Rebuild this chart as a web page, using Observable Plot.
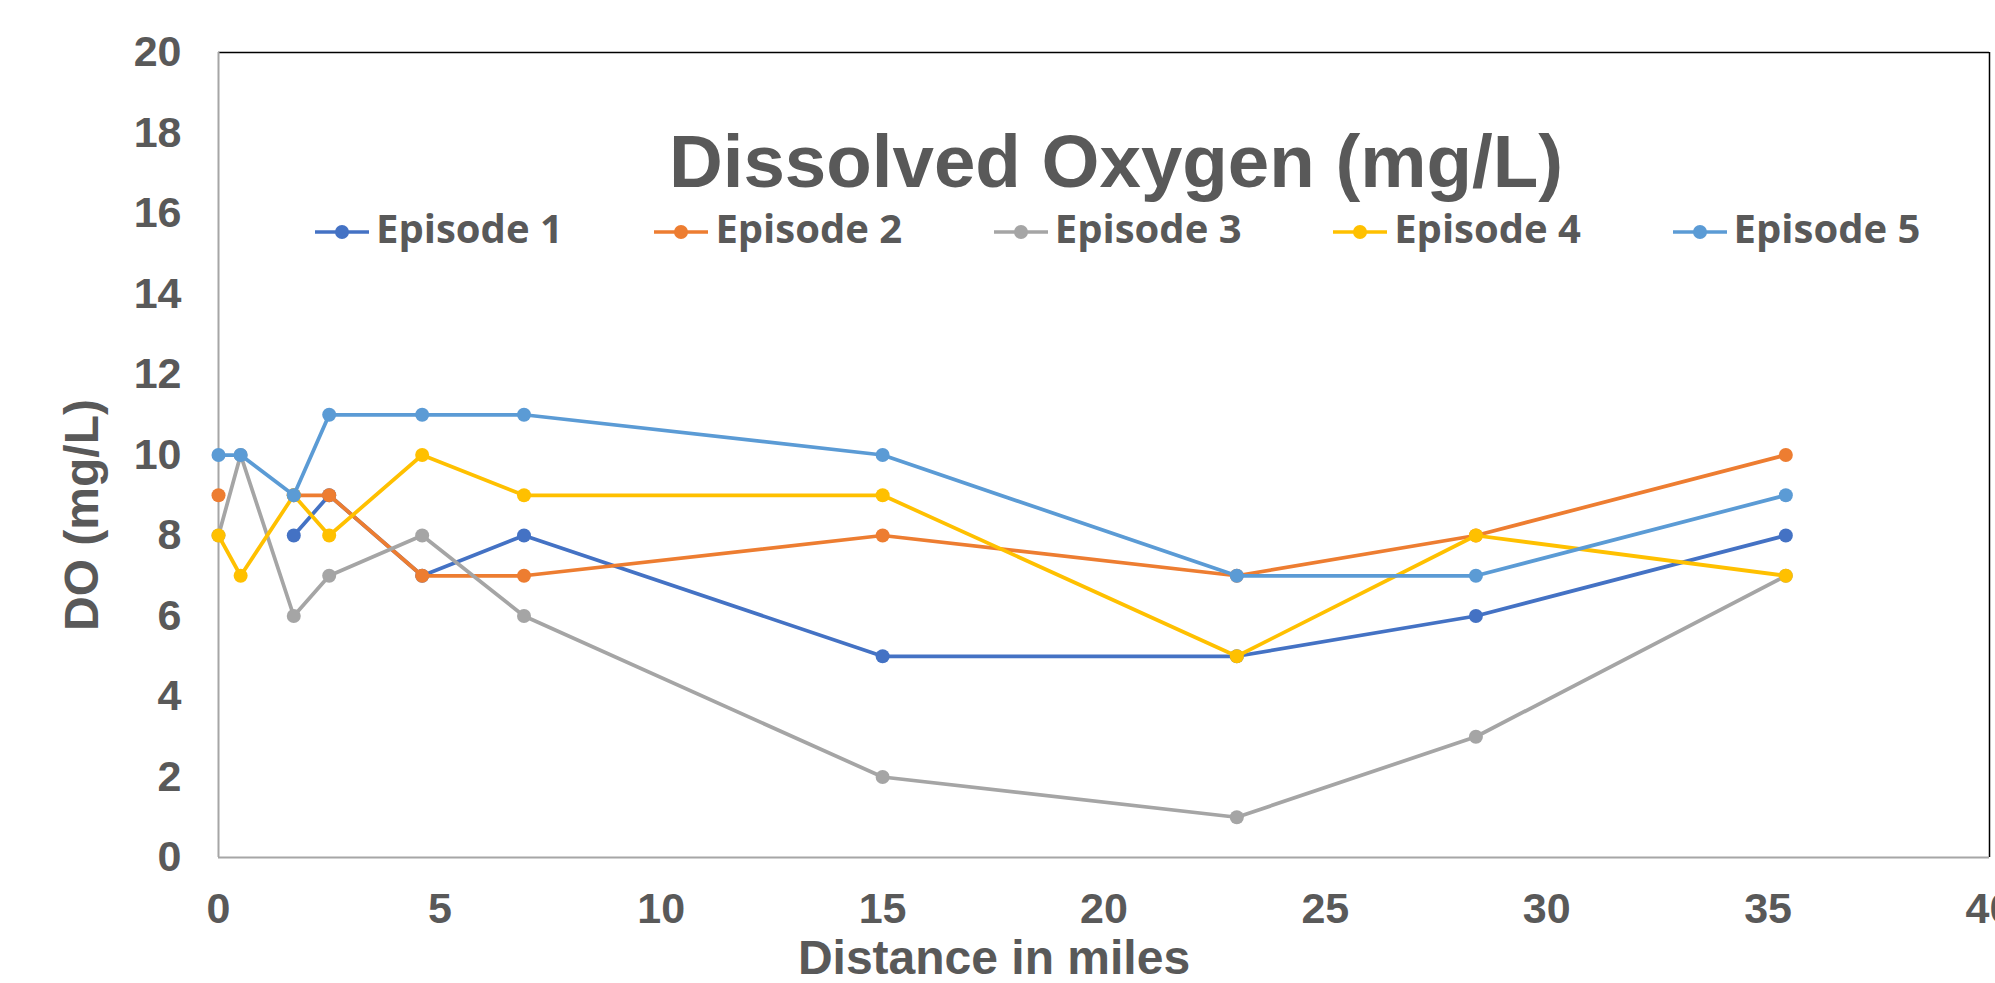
<!DOCTYPE html>
<html>
<head>
<meta charset="utf-8">
<script src="https://cdn.jsdelivr.net/npm/d3@7"></script>
<script src="https://cdn.jsdelivr.net/npm/@observablehq/plot@0.6"></script>
<style>
  html, body { margin: 0; padding: 0; background: #fff; overflow: hidden; }
  #wrap { position: relative; width: 1995px; height: 983px; overflow: hidden; }
  .title { position: absolute; left: 1116px; top: 125px; transform: translateX(-50%); white-space: nowrap;
           font-family: "Liberation Sans", Arial, sans-serif; font-weight: bold; font-size: 74.5px; line-height: 1; color: #595959; }
  .xtitle { position: absolute; left: 994px; top: 934px; transform: translateX(-50%); white-space: nowrap;
            font-family: "Liberation Sans", Arial, sans-serif; font-weight: bold; font-size: 48px; line-height: 1; color: #595959; }
  .ytitle { position: absolute; left: -118px; top: 491px; width: 400px; text-align: center; transform: rotate(-90deg); white-space: nowrap;
            font-family: "Liberation Sans", Arial, sans-serif; font-weight: bold; font-size: 48px; line-height: 1; color: #595959; }
  .leg { position: absolute; top: 208px; display: flex; align-items: flex-start; white-space: nowrap;
         font-family: "Open Sans", sans-serif; font-weight: bold; font-size: 40px; line-height: 1; color: #595959; }
  .leg svg { display: block; margin-right: 7px; }
</style>
</head>
<body>
<div id="wrap"></div>
<script>
const distances = [0, 0.5, 1.7, 2.5, 4.6, 6.9, 15, 23, 28.4, 35.4];
const episodeNames = ["Episode 1", "Episode 2", "Episode 3", "Episode 4", "Episode 5"];
const episode1 = [null, null, 8, 9, 7, 8, 5, 5, 6, 8];
const episode2 = [9, null, 9, 9, 7, 7, 8, 7, 8, 10];
const episode3 = [8, 10, 6, 7, 8, 6, 2, 1, 3, 7];
const episode4 = [8, 7, 9, 8, 10, 9, 9, 5, 8, 7];
const episode5 = [10, 10, 9, 11, 11, 11, 10, 7, 7, 9];
const colors = ["#4472C4", "#ED7D31", "#A5A5A5", "#FFC000", "#5B9BD5"];
const xTicks = [0, 5, 10, 15, 20, 25, 30, 35, 40];
const yTicks = [0, 2, 4, 6, 8, 10, 12, 14, 16, 18, 20];
const chartTitle = "Dissolved Oxygen (mg/L)";
const xTitle = "Distance in miles";
const yTitle = "DO (mg/L)";

const seriesValues = [episode1, episode2, episode3, episode4, episode5];
const rows = [];
seriesValues.forEach((vals, i) => {
  vals.forEach((v, j) => rows.push({series: episodeNames[i], x: distances[j], y: v}));
});

const marks = [
  Plot.ruleY([20], {stroke: "#000", strokeWidth: 1.5}),
  Plot.ruleX([40], {stroke: "#000", strokeWidth: 1.5}),
  Plot.ruleY([0], {stroke: "#A6A6A6", strokeWidth: 2}),
  Plot.ruleX([0], {stroke: "#A6A6A6", strokeWidth: 2}),
  Plot.axisX({ticks: xTicks, tickSize: 0, tickPadding: 35, label: null}),
  Plot.axisY({ticks: yTicks, tickSize: 0, tickPadding: 37, label: null})
];
episodeNames.forEach((name, i) => {
  const data = rows.filter(d => d.series === name);
  marks.push(Plot.line(data, {x: "x", y: "y", stroke: colors[i], strokeWidth: 3.75}));
  marks.push(Plot.dot(data.filter(d => d.y != null), {x: "x", y: "y", fill: colors[i], r: 7}));
});

const chart = Plot.plot({
  width: 1995,
  height: 983,
  marginLeft: 218,
  marginRight: 6,
  marginTop: 52,
  marginBottom: 126,
  x: {domain: [0, 40]},
  y: {domain: [0, 20]},
  style: {fontFamily: "'Liberation Sans', Arial, sans-serif", fontWeight: "bold", fontSize: "43px", color: "#595959", background: "#fff"},
  marks
});

const wrap = document.getElementById("wrap");
wrap.appendChild(chart);

function addDiv(cls, text) {
  const d = document.createElement("div");
  d.className = cls;
  d.textContent = text;
  wrap.appendChild(d);
  return d;
}
addDiv("title", chartTitle);
addDiv("xtitle", xTitle);
addDiv("ytitle", yTitle);

episodeNames.forEach((name, i) => {
  const item = document.createElement("div");
  item.className = "leg";
  item.style.left = (315 + 339.4 * i) + "px";
  const ns = "http://www.w3.org/2000/svg";
  const svg = document.createElementNS(ns, "svg");
  svg.setAttribute("width", 54);
  svg.setAttribute("height", 40);
  const ln = document.createElementNS(ns, "line");
  ln.setAttribute("x1", 0); ln.setAttribute("x2", 54);
  ln.setAttribute("y1", 24); ln.setAttribute("y2", 24);
  ln.setAttribute("stroke", colors[i]); ln.setAttribute("stroke-width", 3.5);
  const c = document.createElementNS(ns, "circle");
  c.setAttribute("cx", 27); c.setAttribute("cy", 24); c.setAttribute("r", 7);
  c.setAttribute("fill", colors[i]);
  svg.appendChild(ln); svg.appendChild(c);
  const sp = document.createElement("span");
  sp.textContent = name;
  item.appendChild(svg); item.appendChild(sp);
  wrap.appendChild(item);
});
</script>
</body>
</html>
